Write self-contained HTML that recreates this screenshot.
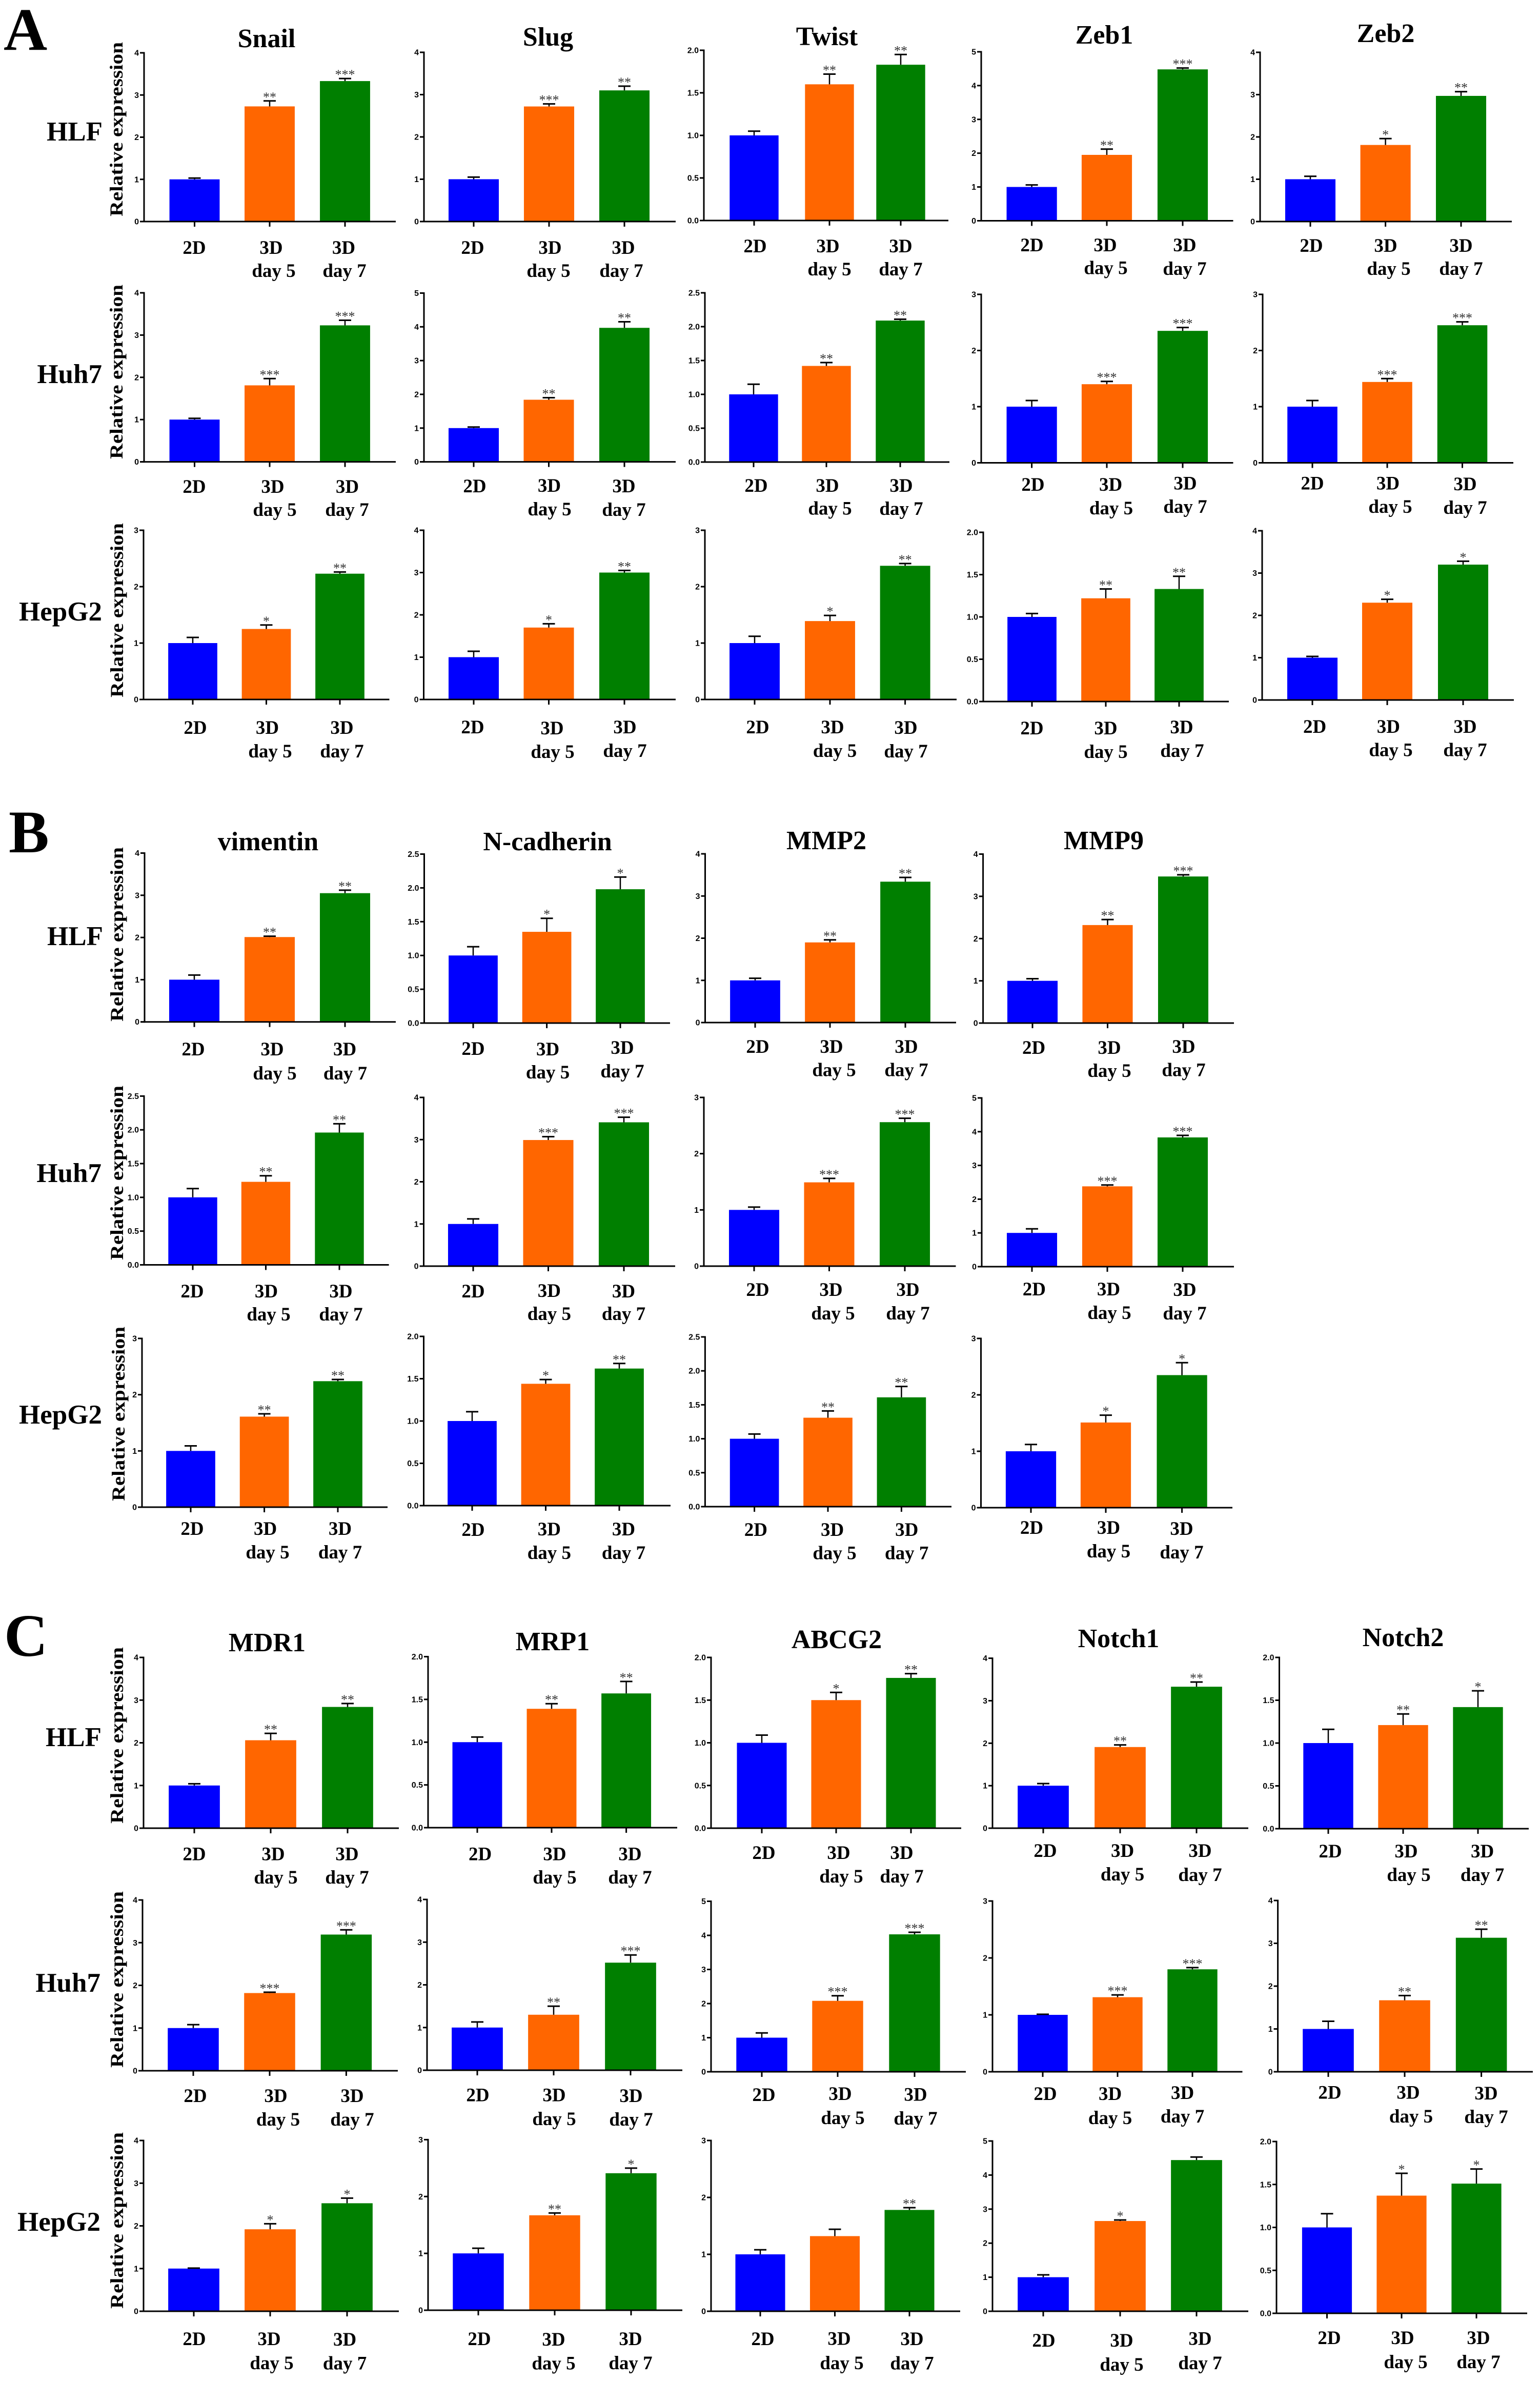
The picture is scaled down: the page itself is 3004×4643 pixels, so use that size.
<!DOCTYPE html>
<html lang="en">
<head>
<meta charset="utf-8">
<title>Relative expression of EMT and drug-resistance genes</title>
<style>
html,body{margin:0;padding:0;background:#fff;}
svg{display:block;}
.serif{font-family:"Liberation Serif",serif;font-weight:bold;fill:#000;}
.panel-letter{font-size:118px;}
.gene-title{font-size:52px;text-anchor:middle;}
.row-label{font-size:53px;text-anchor:end;}
.y-title{font-size:36px;text-anchor:middle;}
.cat-label{font-size:37px;text-anchor:middle;font-family:"Liberation Serif",serif;font-weight:bold;fill:#000;}
.tick-label{font-size:16px;text-anchor:end;font-family:"Liberation Sans",sans-serif;font-weight:bold;fill:#000;}
.sig{font-size:26px;text-anchor:middle;font-family:"Liberation Serif",serif;fill:#333;}
</style>
</head>
<body>
<svg id="figure" xmlns="http://www.w3.org/2000/svg" width="3004" height="4643" viewBox="0 0 3004 4643">
<rect x="0" y="0" width="3004" height="4643" fill="#fff"/>

<text class="serif panel-letter" x="7" y="97">A</text>
<text class="serif panel-letter" x="17" y="1662">B</text>
<text class="serif panel-letter" x="8" y="3229">C</text>

<text class="serif gene-title" x="520" y="92">Snail</text>
<text class="serif gene-title" x="1069" y="89">Slug</text>
<text class="serif gene-title" x="1613" y="88">Twist</text>
<text class="serif gene-title" x="2154" y="85">Zeb1</text>
<text class="serif gene-title" x="2703" y="82">Zeb2</text>
<text class="serif gene-title" x="523" y="1658">vimentin</text>
<text class="serif gene-title" x="1068" y="1658">N-cadherin</text>
<text class="serif gene-title" x="1612" y="1656">MMP2</text>
<text class="serif gene-title" x="2153" y="1656">MMP9</text>
<text class="serif gene-title" x="521" y="3220">MDR1</text>
<text class="serif gene-title" x="1078" y="3218">MRP1</text>
<text class="serif gene-title" x="1632" y="3214">ABCG2</text>
<text class="serif gene-title" x="2182" y="3212">Notch1</text>
<text class="serif gene-title" x="2737" y="3210">Notch2</text>

<text class="serif row-label" x="200" y="274">HLF</text>
<text class="serif row-label" x="199" y="747">Huh7</text>
<text class="serif row-label" x="199" y="1210">HepG2</text>
<text class="serif row-label" x="201" y="1843">HLF</text>
<text class="serif row-label" x="198" y="2305">Huh7</text>
<text class="serif row-label" x="199" y="2776">HepG2</text>
<text class="serif row-label" x="198" y="3405">HLF</text>
<text class="serif row-label" x="196" y="3884">Huh7</text>
<text class="serif row-label" x="196" y="4350">HepG2</text>

<text class="serif y-title" transform="translate(239,252) rotate(-90)" textLength="340" lengthAdjust="spacingAndGlyphs">Relative expression</text>
<text class="serif y-title" transform="translate(239,725) rotate(-90)" textLength="340" lengthAdjust="spacingAndGlyphs">Relative expression</text>
<text class="serif y-title" transform="translate(240,1190) rotate(-90)" textLength="340" lengthAdjust="spacingAndGlyphs">Relative expression</text>
<text class="serif y-title" transform="translate(240,1822) rotate(-90)" textLength="340" lengthAdjust="spacingAndGlyphs">Relative expression</text>
<text class="serif y-title" transform="translate(240,2287) rotate(-90)" textLength="340" lengthAdjust="spacingAndGlyphs">Relative expression</text>
<text class="serif y-title" transform="translate(243,2757) rotate(-90)" textLength="340" lengthAdjust="spacingAndGlyphs">Relative expression</text>
<text class="serif y-title" transform="translate(240,3384) rotate(-90)" textLength="344" lengthAdjust="spacingAndGlyphs">Relative expression</text>
<text class="serif y-title" transform="translate(240,3860) rotate(-90)" textLength="344" lengthAdjust="spacingAndGlyphs">Relative expression</text>
<text class="serif y-title" transform="translate(240,4330) rotate(-90)" textLength="344" lengthAdjust="spacingAndGlyphs">Relative expression</text>

<g id="charts"></g>
</svg>

<script>
// ---------- DATA ----------
const categoryLines = [['2D'], ['3D', 'day 5'], ['3D', 'day 7']];
const categoryKeys = ['2d', '3d-day-5', '3d-day-7'];

const panelIds = [
  'snail-hlf','slug-hlf','twist-hlf','zeb1-hlf','zeb2-hlf',
  'snail-huh7','slug-huh7','twist-huh7','zeb1-huh7','zeb2-huh7',
  'snail-hepg2','slug-hepg2','twist-hepg2','zeb1-hepg2','zeb2-hepg2',
  'vimentin-hlf','n-cadherin-hlf','mmp2-hlf','mmp9-hlf',
  'vimentin-huh7','n-cadherin-huh7','mmp2-huh7','mmp9-huh7',
  'vimentin-hepg2','n-cadherin-hepg2','mmp2-hepg2','mmp9-hepg2',
  'mdr1-hlf','mrp1-hlf','abcg2-hlf','notch1-hlf','notch2-hlf',
  'mdr1-huh7','mrp1-huh7','abcg2-huh7','notch1-huh7','notch2-huh7',
  'mdr1-hepg2','mrp1-hepg2','abcg2-hepg2','notch1-hepg2','notch2-hepg2'
];

const yAxisMax = [
  4,4,2,5,4,
  4,5,2.5,3,3,
  3,4,3,2,4,
  4,2.5,4,4,
  2.5,4,3,5,
  3,2,2.5,3,
  4,2,2,4,2,
  4,4,5,3,4,
  4,3,3,5,2
];

const yAxisStep = [
  1,1,0.5,1,1,
  1,1,0.5,1,1,
  1,1,1,0.5,1,
  1,0.5,1,1,
  0.5,1,1,1,
  1,0.5,0.5,1,
  1,0.5,0.5,1,0.5,
  1,1,1,1,1,
  1,1,1,1,0.5
];

const meanValues = [
  [1,2.73,3.33],[1,2.72,3.1],[1,1.6,1.83],[1,1.95,4.48],[1,1.81,2.97],
  [1,1.81,3.23],[1,1.84,3.97],[1,1.42,2.09],[1,1.4,2.35],[1,1.44,2.45],
  [1,1.25,2.23],[1,1.7,3],[1,1.39,2.37],[1,1.22,1.33],[1,2.3,3.2],
  [1,2.01,3.05],[1,1.35,1.98],[1,1.9,3.34],[1,2.32,3.47],
  [1,1.23,1.96],[1,2.99,3.41],[1,1.49,2.56],[1,2.38,3.83],
  [1,1.61,2.24],[1,1.44,1.62],[1,1.31,1.61],[1,1.51,2.35],
  [1,2.06,2.84],[1,1.39,1.57],[1,1.5,1.76],[1,1.91,3.33],[1,1.21,1.42],
  [1,1.82,3.19],[1,1.3,2.52],[1,2.08,4.03],[1,1.31,1.8],[1,1.67,3.13],
  [1,1.92,2.53],[1,1.67,2.41],[1,1.32,1.78],[1,2.65,4.44],[1,1.37,1.51]
];

const errorTopValues = [
  [1.03,2.86,3.39],[1.05,2.78,3.2],[1.05,1.72,1.95],[1.06,2.12,4.52],[1.07,1.96,3.07],
  [1.03,1.97,3.35],[1.03,1.9,4.15],[1.15,1.47,2.11],[1.11,1.45,2.41],[1.11,1.5,2.51],
  [1.1,1.32,2.26],[1.14,1.79,3.05],[1.12,1.49,2.41],[1.04,1.33,1.48],[1.03,2.38,3.28],
  [1.11,2.03,3.12],[1.13,1.55,2.16],[1.05,1.96,3.44],[1.05,2.45,3.51],
  [1.13,1.32,2.09],[1.12,3.07,3.53],[1.05,1.56,2.63],[1.12,2.42,3.89],
  [1.09,1.66,2.27],[1.11,1.49,1.68],[1.07,1.41,1.77],[1.12,1.64,2.57],
  [1.04,2.22,2.92],[1.06,1.45,1.71],[1.09,1.59,1.81],[1.05,1.96,3.44],[1.16,1.34,1.61],
  [1.08,1.84,3.3],[1.13,1.5,2.7],[1.14,2.23,4.09],[1.01,1.35,1.83],[1.18,1.78,3.33],
  [1.01,2.05,2.65],[1.09,1.71,2.5],[1.08,1.44,1.82],[1.07,2.68,4.53],[1.16,1.63,1.68]
];

const significance = [
  ['','**','***'],['','***','**'],['','**','**'],['','**','***'],['','*','**'],
  ['','***','***'],['','**','**'],['','**','**'],['','***','***'],['','***','***'],
  ['','*','**'],['','*','**'],['','*','**'],['','**','**'],['','*','*'],
  ['','**','**'],['','*','*'],['','**','**'],['','**','***'],
  ['','**','**'],['','***','***'],['','***','***'],['','***','***'],
  ['','**','**'],['','*','**'],['','**','**'],['','*','*'],
  ['','**','**'],['','**','**'],['','*','**'],['','**','**'],['','**','*'],
  ['','***','***'],['','**','***'],['','***','***'],['','***','***'],['','**','**'],
  ['','*','*'],['','**','*'],['','','**'],['','*',''],['','*','*']
];

// ---------- LAYOUT (page geometry, separate from the data) ----------
const seriesColors = ['#0000ff', '#ff6600', '#007f00'];

// axis x, three tick centres, axis right end, plot top, plot bottom
const panelFrames = [
  [281,379.5,526,673,772,103,432],[827,924,1071,1218,1318,102,432],[1373,1471,1618,1757,1850,98,430],[1914,2012.6,2159,2307,2405.5,101,430.5],[2458,2556,2702.6,2850,2949,102,432],
  [281,379.5,526,673,772,571,900.6],[827,924,1070.5,1218,1318,571.5,900.6],[1375,1470,1612,1756,1852,571,901],[1914,2012.6,2159,2307,2405.5,574,902.5],[2463,2560,2706,2852.5,2952,574,902.5],
  [280,376,519.5,663,759.5,1034,1364],[826.5,924,1070.5,1218,1318,1034,1364],[1375,1472,1619,1765.6,1866,1034,1364],[1918,2013,2157,2300,2397,1038,1368],[2462,2560,2706,2854,2953,1035,1365],
  [282,379,526,673,772,1663.5,1992.7],[827.5,923,1066.6,1210,1307,1665.5,1995],[1375.5,1473,1619,1766,1865,1665,1994],[1917.6,2014,2160.5,2308,2407,1665.5,1995],
  [281,376,518.5,662,758.6,2137.4,2466.5],[826.5,923,1069.5,1217,1317,2140,2469],[1373,1471,1617.5,1765,1864.5,2140,2469],[1915,2013,2160,2307,2407,2141,2470],
  [277,372,515.6,659,756,2610,2939],[826.5,921,1064.5,1208,1308,2606,2936],[1375.4,1471.6,1615,1758.4,1856,2607,2938],[1913.5,2011,2157,2305.6,2404,2610,2940],
  [280,379,528,678,778,3232,3565],[835,931,1076,1221.6,1321,3230.5,3564],[1387,1486,1631,1777,1875,3232,3565],[1936,2035,2185,2334,2435,3233.6,3565],[2495.5,2591,2737,2883,2982,3232,3566],
  [278,377,526,675.4,776,3705,4038],[833,931,1080,1230,1331,3704,4037],[1387,1486,1634,1784,1884,3707.5,4040],[1936,2034,2180,2326,2423.5,3707,4040],[2492.6,2591,2740,2889.6,2990,3706,4040],
  [280,378,527,677,778,4174,4507],[835,933,1082,1231,1331,4172.4,4505],[1387,1483,1628.5,1774,1873,4174,4507],[1936,2035,2185,2334,2435,4175,4507],[2490,2588.5,2734,2880,2979,4176,4511]
];

// x,y of "2D"; "3D","day 5"; "3D","day 7" label baselines
const labelAnchors = [
  [379,495,529,495,534,540,670.5,495,672,540],[922,495,1073,495,1070,540,1216,495,1212,540],[1473,492,1615,492,1618,537,1757,492,1757,537],[2013,490,2156,490,2157,534.5,2311,490,2311,536],[2558,491,2703,491,2709,536,2850,491,2850,536],
  [379,961,532,961,536,1006,677.5,961,677,1006],[926,960,1071.5,959,1072,1005,1217,960,1217,1006],[1475,959,1614,959,1619,1003.5,1758,959,1758,1004],[2015,957,2166.6,957,2167.5,1003,2312,954.5,2312,1000],[2560,954.5,2707.5,954.5,2712,1000,2858,956,2858,1002],
  [381,1431,521.5,1431,527,1477,667,1431,667,1477],[922,1430,1077,1432,1078,1478,1219,1430,1219,1476],[1478,1430,1624,1430,1628.6,1476,1767,1431,1767,1477],[2013,1432,2157,1432,2157,1478,2305,1430,2306,1476],[2564.6,1429,2708.4,1429,2713,1474.5,2858,1429,2858,1474.5],
  [377,2058,531,2058,536,2105,672.6,2058,673.5,2105],[923,2057,1068.6,2058,1068.6,2103,1214,2055,1214,2101],[1478,2053,1622,2053,1627,2098.5,1768,2053,1768,2098.5],[2016.6,2055,2164,2055,2164,2100,2309,2053,2309,2098.5],
  [375,2530,519.5,2530,524,2575,665,2530,665,2575],[923,2530,1071.4,2529,1071.4,2574,1216.5,2530,1216.5,2574],[1478,2527,1621,2527,1625,2573,1771,2527,1771,2573],[2017.4,2526,2162.5,2526,2164,2572,2311,2527,2311,2573],
  [375,2993,517.6,2993,522,3039,663.5,2993,663.5,3039],[923,2995,1071.4,2994,1071.4,3040,1216.5,2994,1216.5,3040],[1474.4,2995,1623.6,2995,1628,3040.5,1768.7,2995,1768.7,3040.5],[2012.5,2991,2162.5,2991,2162.5,3037,2305,2993,2305,3039],
  [379,3627.5,533,3627.5,538,3673,677,3627.5,677,3673],[936.6,3627.5,1082,3627.5,1082,3673,1229,3627.5,1229,3673],[1490,3625,1636,3625,1641,3671,1759,3625,1759,3671],[2039,3621,2189.6,3621,2189.6,3667,2341,3621,2341,3668],[2595,3622,2743,3622,2748,3668,2891.6,3622,2891.6,3668],
  [381,4099,538,4099,542.5,4145,687,4099,687,4145],[932,4097.5,1081,4097.5,1081,4144,1231,4099,1231,4145],[1490,4097,1639,4095,1644,4142,1786,4096.5,1786,4143],[2039,4095,2165.6,4095,2165.6,4142,2306.6,4093,2306.6,4139],[2594,4092.6,2747,4092.6,2752.5,4139,2899,4094,2899,4140],
  [379,4573,525,4573,530,4620,672.6,4574,672.6,4620.6],[935,4573,1080,4574,1080,4620.6,1230,4573,1230,4620],[1488,4573,1637,4572.4,1642,4620,1779,4573,1779,4620.6],[2036,4576,2188,4576,2188,4623,2341,4572.4,2341,4620],[2593,4571,2736,4571,2742,4618,2884,4571,2884,4618]
];

// ---------- DRAWING ----------
const SVG_NS = 'http://www.w3.org/2000/svg';
const chartsRoot = document.getElementById('charts');

function make(tag, parent) {
  const el = document.createElementNS(SVG_NS, tag);
  parent.appendChild(el);
  return el;
}

function line(parent, x1, y1, x2, y2, w) {
  const el = make('line', parent);
  el.setAttribute('x1', x1);
  el.setAttribute('y1', y1);
  el.setAttribute('x2', x2);
  el.setAttribute('y2', y2);
  el.setAttribute('stroke', '#000');
  el.setAttribute('stroke-width', w);
  return el;
}

function yScale(frame, max) {
  const top = frame[5], bottom = frame[6];
  return function (v) { return bottom - (v / max) * (bottom - top); };
}

panelIds.forEach(function (id, p) {
  const frame = panelFrames[p];
  const anchors = labelAnchors[p];
  const max = yAxisMax[p];
  const step = yAxisStep[p];
  const y = yScale(frame, max);
  const axisX = frame[0], right = frame[4], bottom = frame[6];
  const barW = (frame[3] - frame[1]) / 2 * 0.667;

  const g = make('g', chartsRoot);
  
  

  // bars and error bars
  meanValues[p].forEach(function (value, k) {
    const cx = frame[1 + k];
    const bar = make('rect', g);
    
    
    bar.setAttribute('x', cx - barW / 2);
    bar.setAttribute('y', y(value));
    bar.setAttribute('width', barW);
    bar.setAttribute('height', bottom - y(value));
    bar.setAttribute('fill', seriesColors[k]);

    const capY = y(errorTopValues[p][k]);
    const stem = line(g, cx, y(value), cx, capY, 2.5);
    
    
    const cap = line(g, cx - 12, capY, cx + 12, capY, 3);
    
    

    if (significance[p][k]) {
      const sig = make('text', g);
      
      
      sig.setAttribute('class', 'sig');
      sig.setAttribute('x', cx);
      sig.setAttribute('y', capY + 1);
      sig.textContent = significance[p][k];
    }
  });

  // y axis
  const yAxis = line(g, axisX, frame[5] - 1.5, axisX, bottom + 1.5, 3);
  
  
  const tickCount = Math.round(max / step);
  for (let t = 0; t <= tickCount; t++) {
    const v = t * step;
    const tick = line(g, axisX - 8, y(v), axisX, y(v), 3);
    
    
    const label = make('text', g);
    
    
    label.setAttribute('class', 'tick-label');
    label.setAttribute('x', axisX - 10);
    label.setAttribute('y', y(v) + 5.5);
    label.textContent = step < 1 ? v.toFixed(1) : String(v);
  }

  // x axis
  const xAxis = line(g, axisX - 8, bottom, right, bottom, 3);
  
  
  for (let k = 0; k < 3; k++) {
    const xt = line(g, frame[1 + k], bottom, frame[1 + k], bottom + 10, 3);
    
    
  }

  // category labels
  let a = 0;
  categoryLines.forEach(function (lines) {
    lines.forEach(function (txt) {
      const lab = make('text', g);
      
      
      lab.setAttribute('class', 'cat-label');
      lab.setAttribute('x', anchors[a]);
      lab.setAttribute('y', anchors[a + 1]);
      lab.textContent = txt;
      a += 2;
    });
  });
});
</script>
</body>
</html>
